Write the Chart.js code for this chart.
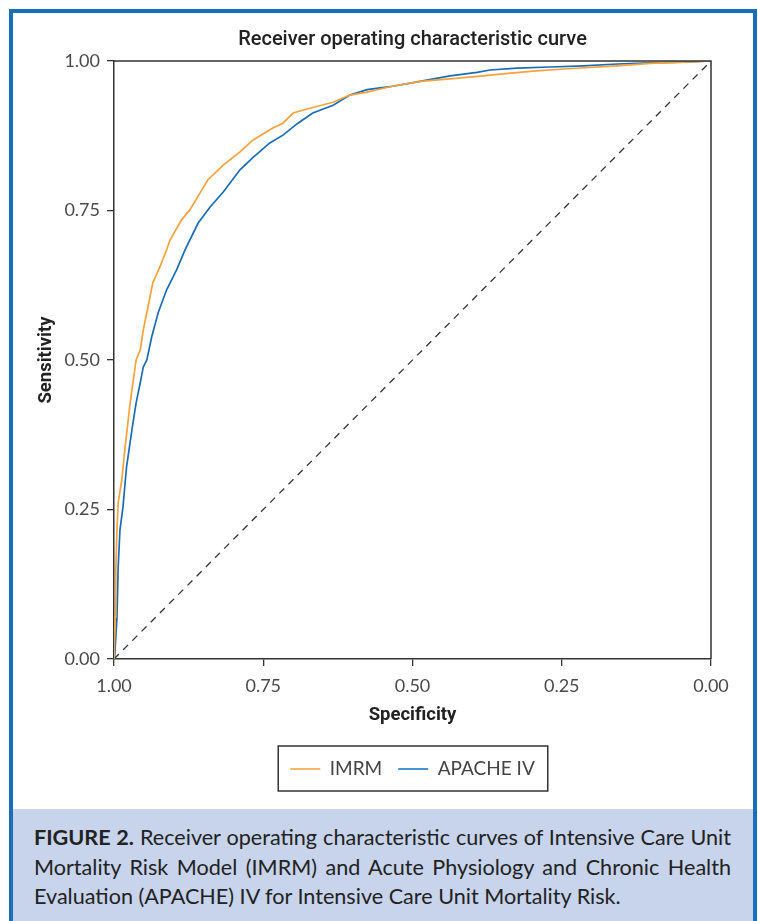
<!DOCTYPE html>
<html>
<head>
<meta charset="utf-8">
<script src="https://cdn.jsdelivr.net/npm/chart.js@4.4.1/dist/chart.umd.min.js"></script>
<style>
  html, body { margin: 0; padding: 0; background: #ffffff; }
  body { width: 758px; height: 921px; position: relative; overflow: hidden; }
  #frame { position: absolute; left: 9px; top: 9px; width: 740px; height: 930px;
           border: 4px solid #1a6fba; box-sizing: content-box; }
  #caption { position: absolute; left: 13px; top: 809px; width: 740px; height: 120px;
             background: #c7d4eb; }
  .cap { position: absolute; left: 21px; white-space: nowrap; font-family: Lato, "Open Sans", sans-serif;
         font-size: 21.6px; color: #222; line-height: 29px; }
  .cap b { font-weight: 700; }
  #chartWrap { position: absolute; left: 0; top: 0; width: 758px; height: 800px; }
</style>
</head>
<body>
<div id="frame"></div>
<div id="caption">
  <span class="cap" id="l1" style="top:14px"><b>FIGURE 2.</b> Receiver operating characteristic curves of Intensive Care Unit</span>
  <span class="cap" id="l2" style="top:44px">Mortality Risk Model (IMRM) and Acute Physiology and Chronic Health</span>
  <span class="cap" id="l3" style="top:73px">Evaluation (APACHE) IV for Intensive Care Unit Mortality Risk.</span>
</div>
<div id="chartWrap"><canvas id="c" width="758" height="800"></canvas></div>
<script>
// ---- data ----
const seriesNames = ["IMRM", "APACHE IV"];
const imrmSpec = [1.000, 0.998, 0.997, 0.995, 0.993, 0.987, 0.982, 0.973, 0.963, 0.956, 0.951, 0.943, 0.935, 0.923, 0.912, 0.906, 0.887, 0.873, 0.856, 0.843, 0.817, 0.789, 0.767, 0.734, 0.717, 0.700, 0.672, 0.633, 0.605, 0.576, 0.538, 0.487, 0.437, 0.382, 0.353, 0.298, 0.241, 0.157, 0.102, 0.047, 0.000];
const imrmSens = [0.000, 0.070, 0.149, 0.216, 0.261, 0.299, 0.349, 0.428, 0.500, 0.517, 0.550, 0.589, 0.629, 0.656, 0.684, 0.701, 0.734, 0.751, 0.779, 0.801, 0.826, 0.848, 0.868, 0.888, 0.896, 0.913, 0.921, 0.931, 0.943, 0.948, 0.957, 0.966, 0.970, 0.975, 0.978, 0.983, 0.987, 0.992, 0.996, 0.998, 1.000];
const apacheSpec = [1.000, 0.999, 0.995, 0.993, 0.990, 0.985, 0.979, 0.970, 0.963, 0.956, 0.951, 0.945, 0.937, 0.926, 0.912, 0.895, 0.881, 0.859, 0.839, 0.817, 0.789, 0.767, 0.739, 0.717, 0.692, 0.667, 0.633, 0.605, 0.576, 0.538, 0.492, 0.437, 0.392, 0.370, 0.325, 0.270, 0.214, 0.157, 0.102, 0.047, 0.000];
const apacheSens = [0.000, 0.003, 0.070, 0.154, 0.216, 0.254, 0.321, 0.383, 0.428, 0.462, 0.488, 0.500, 0.538, 0.579, 0.617, 0.651, 0.684, 0.729, 0.756, 0.781, 0.818, 0.839, 0.863, 0.876, 0.896, 0.913, 0.926, 0.943, 0.952, 0.957, 0.965, 0.975, 0.981, 0.985, 0.988, 0.990, 0.992, 0.995, 0.997, 0.998, 1.000];
const diagSpec = [1, 0];
const diagSens = [0, 1];
const tickValues = [0, 0.25, 0.5, 0.75, 1];

const toPts = (xs, ys) => xs.map((x, i) => ({ x: x, y: ys[i] }));

// caption justification
function justify(id, target) {
  const el = document.getElementById(id);
  const w = el.getBoundingClientRect().width;
  const spaces = (el.textContent.match(/ /g) || []).length;
  if (spaces) el.style.wordSpacing = ((target - w) / spaces) + 'px';
}
justify('l1', 697); justify('l2', 697);

const borderBox = {
  id: 'borderBox',
  afterDraw(chart) {
    const { ctx, chartArea: a } = chart;
    ctx.save();
    ctx.strokeStyle = '#333';
    ctx.lineWidth = 1.5;
    ctx.beginPath();
    ctx.moveTo(a.left, a.top); ctx.lineTo(a.right, a.top); ctx.lineTo(a.right, a.bottom);
    ctx.stroke();
    const hb = chart.legend.legendHitBoxes;
    if (hb && hb.length) {
      const l = Math.min(...hb.map(h => h.left)) - 12;
      const r = Math.max(...hb.map(h => h.left + h.width)) + 13;
      const t = hb[0].top - 13.5;
      const b = hb[0].top + hb[0].height + 12.5;
      ctx.lineWidth = 1.5;
      ctx.strokeStyle = '#333';
      ctx.strokeRect(l, t, r - l, b - t);
    }
    ctx.restore();
  }
};

const legendColors = ['#f7b56a', '#4b92d2'];
const tickFont = { family: 'Lato, "Open Sans", sans-serif', size: 18 };
const titleFontFam = 'Roboto, "DejaVu Sans", sans-serif';

new Chart(document.getElementById('c'), {
  type: 'line',
  data: {
    datasets: [
      { label: seriesNames[0], data: toPts(imrmSpec, imrmSens), borderColor: '#f6a23a', borderWidth: 1.7, pointRadius: 0, tension: 0, fill: false },
      { label: seriesNames[1], data: toPts(apacheSpec, apacheSens), borderColor: '#1a6cb6', borderWidth: 1.7, pointRadius: 0, tension: 0, fill: false },
      { label: 'ref', data: toPts(diagSpec, diagSens), borderColor: '#333', borderWidth: 1.3, borderDash: [7, 6], pointRadius: 0, fill: false }
    ]
  },
  options: {
    responsive: false,
    animation: false,
    devicePixelRatio: 1,
    layout: { padding: { left: 0, right: 47, top: 0, bottom: 11.5 } },
    plugins: {
      tooltip: { enabled: false },
      title: {
        display: true,
        fullSize: false,
        text: 'Receiver operating characteristic curve',
        color: '#222',
        font: { family: titleFontFam, size: 20, weight: '500' },
        padding: { top: 27.5, bottom: 9.5 }
      },
      legend: {
        display: true,
        position: 'bottom',
        fullSize: false,
        labels: {
          usePointStyle: true,
          pointStyle: 'line',
          pointStyleWidth: 30,
          padding: 16,
          color: '#444',
          font: { family: 'Lato, "Open Sans", sans-serif', size: 19 },
          filter: (item) => item.datasetIndex < 2,
          generateLabels: (chart) => {
            const items = Chart.defaults.plugins.legend.labels.generateLabels(chart);
            items.forEach(it => { if (it.datasetIndex < 2) { it.strokeStyle = legendColors[it.datasetIndex]; it.lineWidth = 2; } });
            return items;
          }
        }
      }
    },
    scales: {
      x: {
        type: 'linear', reverse: true, min: 0, max: 1,
        afterBuildTicks: (s) => { s.ticks = tickValues.map(v => ({ value: v })); },
        afterFit: (s) => { s.height = 84.5; },
        ticks: { callback: (v) => Number(v).toFixed(2), font: tickFont, color: '#4a4a4a', padding: 9, maxRotation: 0 },
        grid: { drawOnChartArea: false, drawTicks: true, tickLength: 7, color: '#333', lineWidth: 1.3 },
        border: { display: true, color: '#333', width: 1.5 },
        title: { display: true, text: 'Specificity', color: '#222', font: { family: titleFontFam, size: 18.5, weight: 'bold' }, padding: { top: 0, bottom: 17.4 } }
      },
      y: {
        type: 'linear', min: 0, max: 1,
        afterBuildTicks: (s) => { s.ticks = tickValues.map(v => ({ value: v })); },
        afterFit: (s) => { s.width = 114; },
        ticks: { callback: (v) => Number(v).toFixed(2), font: tickFont, color: '#4a4a4a', padding: 7 },
        grid: { drawOnChartArea: false, drawTicks: true, tickLength: 7, color: '#333', lineWidth: 1.3 },
        border: { display: true, color: '#333', width: 1.5 },
        title: { display: true, text: 'Sensitivity', color: '#222', font: { family: titleFontFam, size: 18.5, weight: 'bold' }, padding: { top: 34.9, bottom: 0 } }
      }
    }
  },
  plugins: [borderBox]
});
</script>
</body>
</html>
